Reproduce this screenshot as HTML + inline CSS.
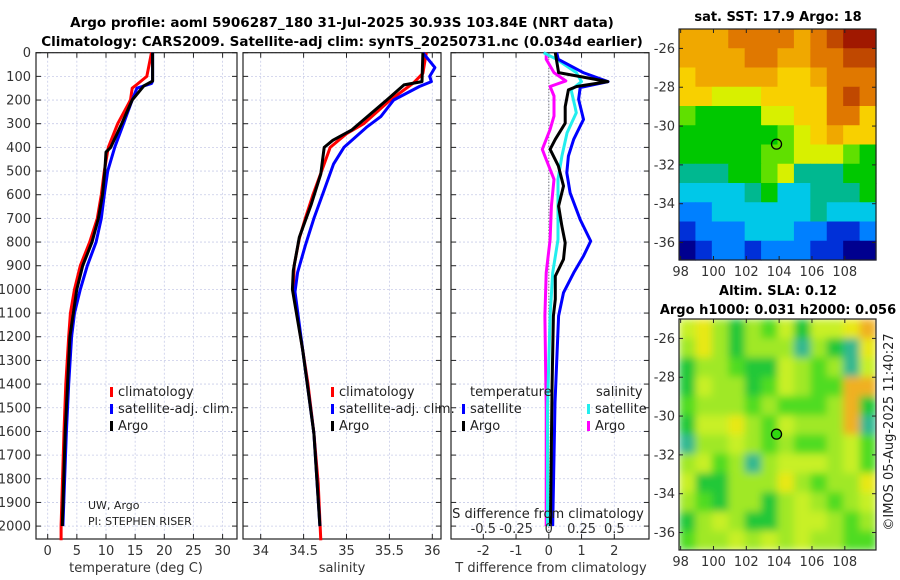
<!DOCTYPE html>
<html><head><meta charset="utf-8"><style>
body{margin:0;background:#fff;}
svg{display:block;font-family:"DejaVu Sans","Liberation Sans",sans-serif;}
</style></head><body>
<svg id="chart" width="900" height="580" viewBox="0 0 900 580">
<defs>
<filter id="blur" x="0" y="0" width="1" height="1"><feGaussianBlur stdDeviation="4" edgeMode="duplicate"/></filter>
<clipPath id="slaclip"><rect x="679" y="319" width="197" height="231"/></clipPath>
</defs>
<text x="342" y="27" text-anchor="middle" font-size="13.5" font-weight="bold">Argo profile: aoml 5906287_180 31-Jul-2025 30.93S 103.84E (NRT data)</text>
<text x="342" y="46" text-anchor="middle" font-size="13.5" font-weight="bold">Climatology: CARS2009. Satellite-adj clim: synTS_20250731.nc (0.034d earlier)</text>
<text x="778" y="21" text-anchor="middle" font-size="13" font-weight="bold">sat. SST: 17.9 Argo: 18</text>
<text x="778" y="295" text-anchor="middle" font-size="13" font-weight="bold">Altim. SLA: 0.12</text>
<text x="778" y="314" text-anchor="middle" font-size="13" font-weight="bold">Argo h1000: 0.031 h2000: 0.056</text>
<text transform="translate(893,432) rotate(-90)" text-anchor="middle" font-size="13" fill="#222">©IMOS 05-Aug-2025 11:40:27</text>
<g id="g"></g>
</svg>
<script>
// ---------- data ----------
const tDepth = [0,100,130,150,200,300,400,500,600,700,800,900,1000,1100,1200,1400,1600,2000,2060];
const tClim  = [17.8,17.0,15.5,14.5,14.2,12.0,10.4,9.7,9.2,8.5,7.2,5.6,4.6,3.9,3.6,3.1,2.8,2.3,2.3];
const tSatDepth = [0,120,130,150,200,300,400,500,600,700,800,900,1000,1100,1200,1400,1600,2000];
const tSat   = [18.0,18.0,17.8,15.3,14.5,13.0,11.5,10.3,9.7,9.2,8.3,6.8,5.6,4.6,4.1,3.6,3.2,2.6];
const tArgoDepth = [0,120,140,200,300,400,420,500,600,700,800,900,1000,1200,1600,2000];
const tArgo  = [18.0,18.0,16.5,14.5,12.7,10.8,10.0,9.8,9.4,8.7,7.6,6.0,5.0,3.8,3.0,2.5];

const sClimDepth = [0,87,128,200,300,342,400,500,600,700,785,898,1002,1256,1397,1608,1820,2060];
const sClim  = [35.93,35.89,35.78,35.51,35.20,35.00,34.81,34.71,34.61,34.52,34.45,34.39,34.38,34.49,34.55,34.62,34.67,34.70];
const sSatDepth = [0,63,100,122,143,200,270,313,400,470,580,700,815,928,1010,1256,1608,2000];
const sSat   = [35.89,36.03,35.97,35.99,35.85,35.55,35.40,35.24,34.97,34.85,34.74,34.62,34.52,34.43,34.40,34.49,34.62,34.69];
const sArgoDepth = [0,122,136,200,327,370,400,455,512,640,780,920,1000,1256,1608,2000];
const sArgo  = [35.89,35.88,35.67,35.47,35.06,34.84,34.74,34.72,34.70,34.59,34.45,34.38,34.37,34.49,34.62,34.69];

const dBlueDepth = [0,28,84,122,147,197,282,366,437,507,592,705,796,859,930,1014,1112,1480,2000];
const dTSat  = [0.24,0.29,1.05,1.81,0.96,0.91,1.06,0.76,0.60,0.55,0.65,0.96,1.28,1.06,0.76,0.45,0.30,0.19,0.12];
const dBlackDepth = [0,84,122,143,157,228,298,366,408,478,563,648,733,803,873,944,1042,1112,1400,2000];
const dTArgo = [0.2,0.3,1.8,0.85,0.6,0.5,0.5,0.2,0.04,0.29,0.45,0.3,0.4,0.5,0.45,0.2,0.2,0.14,0.1,0.05];
const dCyanDepth = [0,28,84,122,157,228,254,338,437,535,648,789,930,1112,1500,2000];
const dSSat  = [-0.04,0.06,0.21,0.25,0.17,0.20,0.21,0.14,0.10,0.07,0.07,0.07,0.03,0.01,-0.01,-0.01];
const dMagDepth = [0,28,84,119,143,183,268,324,408,437,535,648,789,930,1112,1500,2000];
const dSArgo = [-0.02,-0.02,0.04,0.13,0.01,0.04,0.04,0.01,-0.05,-0.03,0.04,0.02,0.01,-0.02,-0.03,-0.02,-0.02];

const depthTicks = [0,100,200,300,400,500,600,700,800,900,1000,1100,1200,1300,1400,1500,1600,1700,1800,1900,2000];
const tTicks = [0,5,10,15,20,25,30];
const sTicks = [34,34.5,35,35.5,36];
const dTTicks = [-2,-1,0,1,2];
const dSTicks = [-0.5,-0.25,0,0.25,0.5];
const dSTickLabels = ['-0.5','-0.25','0','0.25','0.5'];

const lonTicks = [98,100,102,104,106,108];
const latTicks = [-26,-28,-30,-32,-34,-36];
const argoLon = 103.84, argoLat = -30.93;
const sstGrid = [
[9,9,9,10,10,10,10,9,10,11,12,12],
[9,9,9,9,10,10,9,9,10,10,11,11],
[8,9,9,9,9,9,8,8,9,10,10,10],
[8,8,7,7,7,8,8,8,8,10,11,10],
[6,5,5,5,5,7,7,8,8,10,10,8],
[5,5,5,5,5,5,6,7,8,9,8,8],
[5,5,5,5,5,6,6,7,7,7,6,5],
[4,4,4,5,5,6,7,4,4,4,5,5],
[3,3,3,3,4,5,3,3,4,4,4,5],
[2,2,3,3,3,3,3,3,4,3,3,3],
[1,2,2,2,3,3,3,2,2,1,1,2],
[0,1,2,2,1,2,2,2,1,1,0,0]];
const slaGrid = [
[4,5,3,1,3,2,4,1,4,4,5,6],
[3,5,3,1,3,3,3,0,3,1,0,5],
[1,3,3,2,1,1,4,3,2,3,0,4],
[1,4,3,3,1,2,4,3,2,2,6,6],
[2,3,3,3,2,3,2,2,2,3,6,1],
[1,4,4,5,3,2,4,3,3,3,6,0],
[0,3,3,4,3,2,3,2,2,3,4,2],
[3,4,2,3,0,3,4,4,4,3,4,2],
[4,1,1,3,3,3,5,3,2,3,3,5],
[3,2,1,3,3,1,3,4,3,2,3,4],
[1,3,4,3,1,1,3,4,4,3,2,3],
[2,3,3,4,3,4,3,4,3,3,2,2]];

// ---------- drawing ----------
const NS='http://www.w3.org/2000/svg';
const G=document.getElementById('g');
function mk(tag,attrs,parent){const e=document.createElementNS(NS,tag);for(const k in attrs)e.setAttribute(k,attrs[k]);(parent||G).appendChild(e);return e;}
const TOP=52.7, BOT=539, DPX=0.2367;
const yD = d => TOP + d*DPX;
const panels=[
 {x0:36,x1:237,fx:v=>47.7+v*5.83},
 {x0:243,x1:441,fx:v=>260.7+(v-34)*85.8},
 {x0:451,x1:649,fx:v=>548.8+v*32.75}];
const fS = v=>548.8+v*131;

panels.forEach((p,i)=>{
  const grid=mk('g',{});
  
  
  depthTicks.forEach(d=>{
    mk('line',{x1:p.x0,x2:p.x1,y1:yD(d),y2:yD(d),stroke:'#c8cce8','stroke-width':0.8,'stroke-dasharray':'2,2'},grid);
    mk('line',{x1:p.x0,x2:p.x0+5,y1:yD(d),y2:yD(d),stroke:'#222','stroke-width':1},grid);
    mk('line',{x1:p.x1-5,x2:p.x1,y1:yD(d),y2:yD(d),stroke:'#222','stroke-width':1},grid);
  });
  const xt = i==0?tTicks:i==1?sTicks:dTTicks;
  xt.forEach(v=>{
    const x=p.fx(v);
    mk('line',{x1:x,x2:x,y1:TOP,y2:BOT,stroke:'#c8cce8','stroke-width':0.8,'stroke-dasharray':'2,2'},grid);
    mk('line',{x1:x,x2:x,y1:TOP,y2:TOP+5,stroke:'#222'},grid);
    mk('line',{x1:x,x2:x,y1:BOT-5,y2:BOT,stroke:'#222'},grid);
    const t=mk('text',{x:x,y:555,'text-anchor':'middle','font-size':13,fill:'#333'});
    t.textContent=String(v);
    
    
  });
  const fr=mk('rect',{x:p.x0,y:TOP,width:p.x1-p.x0,height:BOT-TOP,fill:'none',stroke:'#222','stroke-width':1.2});
  
  
});
depthTicks.forEach(d=>{
  const t=mk('text',{x:31,y:yD(d)+4.5,'text-anchor':'end','font-size':13,fill:'#333'});
  t.textContent=String(d);
  
  
});
const zl=mk('line',{x1:548.8,x2:548.8,y1:TOP,y2:BOT,stroke:'#555','stroke-width':1,'stroke-dasharray':'1,2'});



function line(depths,vals,fx,color,name){
  const pts=depths.map((d,k)=>fx(vals[k]).toFixed(1)+','+yD(d).toFixed(1)).join(' ');
  const e=mk('polyline',{points:pts,fill:'none',stroke:color,'stroke-width':3,'stroke-linejoin':'round'});
  
  
}
line(tDepth,tClim,panels[0].fx,'#f00','temp-climatology-line');
line(tSatDepth,tSat,panels[0].fx,'#00f','temp-satellite-line');
line(tArgoDepth,tArgo,panels[0].fx,'#000','temp-argo-line');
line(sClimDepth,sClim,panels[1].fx,'#f00','sal-climatology-line');
line(sSatDepth,sSat,panels[1].fx,'#00f','sal-satellite-line');
line(sArgoDepth,sArgo,panels[1].fx,'#000','sal-argo-line');
line(dMagDepth,dSArgo,fS,'#f0f','sdiff-argo-line');
line(dCyanDepth,dSSat,fS,'#2ee','sdiff-satellite-line');
line(dBlueDepth,dTSat,panels[2].fx,'#00f','tdiff-satellite-line');
line(dBlackDepth,dTArgo,panels[2].fx,'#000','tdiff-argo-line');

dSTicks.forEach((v,k)=>{
  const t=mk('text',{x:fS(v),y:533,'text-anchor':'middle','font-size':13,fill:'#333'});
  t.textContent=dSTickLabels[k];
  
  
});
function txt(x,y,s,size,name,anchor,fill,parent){
  const t=mk('text',{x:x,y:y,'font-size':size,'text-anchor':anchor||'start',fill:fill||'#222'},parent);
  t.textContent=s;
  
  
  return t;
}
txt(548,518,'S difference from climatology',13,'s-diff-axis-title','middle');
txt(136,572,'temperature (deg C)',13,'temp-axis-title','middle','#333');
txt(342,572,'salinity',13,'salinity-axis-title','middle','#333');
txt(551,572,'T difference from climatology',13,'t-diff-axis-title','middle','#333');
txt(88,509,'UW, Argo',11,'credit-uw','start');
txt(88,525,'PI: STEPHEN RISER',11,'credit-pi','start');

function legend(x,y,color,label,name){
  const m=mk('rect',{x:x,y:y-9,width:3,height:10,fill:color});
  
  
  txt(x+8,y,label,13,name,'start');
}
[['#f00','climatology'],['#00f','satellite-adj. clim.'],['#000','Argo']].forEach((e,k)=>{
  legend(110,396+k*17,e[0],e[1],'legend-temp-'+k);
  legend(331,396+k*17,e[0],e[1],'legend-sal-'+k);
});
txt(470,396,'temperature',13,'legend-tdiff-header','start');
legend(462,413,'#00f','satellite','legend-tdiff-satellite');
legend(462,430,'#000','Argo','legend-tdiff-argo');
txt(596,396,'salinity',13,'legend-sdiff-header','start');
legend(587,413,'#2ee','satellite','legend-sdiff-satellite');
legend(587,430,'#f0f','Argo','legend-sdiff-argo');

// ---------- maps ----------
const sstPal=['#00008f','#0030d8','#0080ff','#00c8e8','#00b890','#00c800','#60e000','#d8f000','#f8d000','#f0a800','#e07800','#c04800','#a01800'];
const slaPal=['#30b890','#20c838','#50dc20','#a0e828','#c8f028','#e8e818','#f0b020'];
function map(top,bot,gridArr,pal,name,smooth){
  const L=679,R=876;
  const lon0=97.9,lon1=109.9,lat0=-25.0,lat1=-36.9;
  const fx=v=>L+(v-lon0)*(R-L)/(lon1-lon0);
  const fy=v=>top+(v-lat0)*(bot-top)/(lat1-lat0);
  const g=mk('g',{});
  
  
  const cells=mk('g',smooth?{'clip-path':'url(#slaclip)'}:{},g);
  const inner=mk('g',smooth?{filter:'url(#blur)'}:{},cells);
  const nr=gridArr.length,nc=gridArr[0].length;
  const cw=(R-L)/nc,ch=(bot-top)/nr;
  gridArr.forEach((row,r)=>row.forEach((c,k)=>{
    mk('rect',{x:L+k*cw,y:top+r*ch,width:cw+0.6,height:ch+0.6,fill:pal[c]},inner);
  }));
  mk('rect',{x:L,y:top,width:R-L,height:bot-top,fill:'none',stroke:'#222','stroke-width':1.2},g);
  lonTicks.forEach(v=>{
    const x=fx(v);
    mk('line',{x1:x,x2:x,y1:bot,y2:bot-4,stroke:'#222'},g);
    mk('line',{x1:x,x2:x,y1:top,y2:top+4,stroke:'#222'},g);
    txt(x,bot+16,String(v),13,'lon-tick-label','middle','#333',g);
  });
  latTicks.forEach(v=>{
    const y=fy(v);
    mk('line',{x1:L,x2:L+4,y1:y,y2:y,stroke:'#222'},g);
    mk('line',{x1:R-4,x2:R,y1:y,y2:y,stroke:'#222'},g);
    txt(L-4,y+4.5,String(v),13,'lat-tick-label','end','#333',g);
  });
  const c=mk('circle',{cx:fx(argoLon),cy:fy(argoLat),r:5,fill:smooth?'#30d810':'none',stroke:'#000','stroke-width':1.3},g);
  
  
}
map(29,260,sstGrid,sstPal,'sst-map',false);
map(319,550,slaGrid,slaPal,'sla-map',true);
</script>
</body></html>
